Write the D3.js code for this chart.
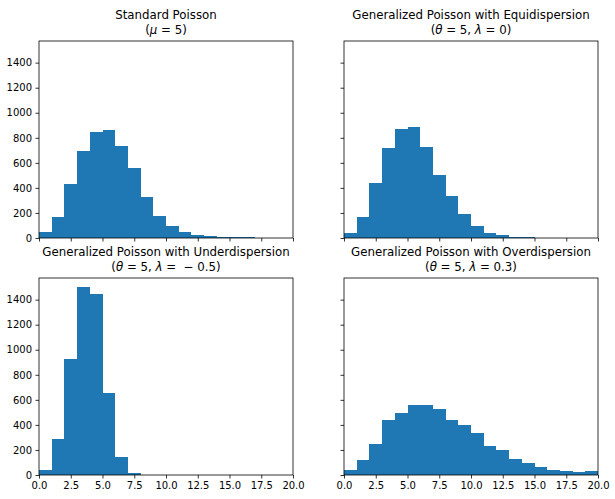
<!DOCTYPE html>
<html>
<head>
<meta charset="utf-8">
<script src="https://cdn.jsdelivr.net/npm/d3@7"></script>
<style>
  body { margin: 0; background: #fff; }
  text { font-family: "DejaVu Sans", sans-serif; fill: #000; }
</style>
</head>
<body>
<script>
// bin edges 0..20, width 1
var binStarts = d3.range(0, 20);

var standardCounts = [48, 168, 431, 695, 846, 862, 735, 559, 327, 176, 98, 48, 26, 16, 8, 8, 8, 0, 0, 0];
var equiCounts     = [40, 168, 439, 719, 870, 886, 727, 503, 335, 192, 98, 40, 24, 8, 8, 0, 0, 0, 0, 0];
var underCounts    = [40, 287, 926, 1498, 1445, 655, 144, 16, 0, 0, 0, 0, 0, 0, 0, 0, 0, 0, 0, 0];
var overCounts     = [40, 120, 248, 439, 495, 559, 559, 527, 439, 399, 335, 231, 200, 128, 96, 64, 40, 32, 24, 32];

var titles1 = ["Standard Poisson", "Generalized Poisson with Equidispersion",
               "Generalized Poisson with Underdispersion", "Generalized Poisson with Overdispersion"];
// second title line pieces: [text, italic?]
var titles2 = [
  [["(", 0], ["\u03bc", 1], [" = 5)", 0]],
  [["(", 0], ["\u03b8", 1], [" = 5, ", 0], ["\u03bb", 1], [" = 0)", 0]],
  [["(", 0], ["\u03b8", 1], [" = 5, ", 0], ["\u03bb", 1], [" =  \u2212 0.5)", 0]],
  [["(", 0], ["\u03b8", 1], [" = 5, ", 0], ["\u03bb", 1], [" = 0.3)", 0]]
];

var xTicks = [0, 2.5, 5, 7.5, 10, 12.5, 15, 17.5, 20];
var yTicks = [0, 200, 400, 600, 800, 1000, 1200, 1400];

var allCounts = [standardCounts, equiCounts, underCounts, overCounts];

var w = 615, h = 499;
var lefts = [39, 344], tops = [41, 278];
var pw = 254, ph = 197;

var svg = d3.select("body").append("svg")
    .attr("width", w)
    .attr("height", h);

var yMax = d3.max(allCounts, function(c) { return d3.max(c); }) * 1.05;

allCounts.forEach(function(counts, i) {
    var col = i % 2, row = Math.floor(i / 2);
    var g = svg.append("g")
        .attr("transform", "translate(" + lefts[col] + "," + tops[row] + ")");

    var x = d3.scaleLinear().domain([0, 20]).range([0, pw]);
    var y = d3.scaleLinear().domain([0, yMax]).range([ph, 0]);

    g.selectAll("rect")
        .data(counts.filter(function(d) { return d > 0; }))
        .enter().append("rect")
        .attr("x", function(d, k) { return Math.round(x(binStarts[k])); })
        .attr("width", function(d, k) { return Math.round(x(binStarts[k] + 1)) - Math.round(x(binStarts[k])); })
        .attr("y", function(d) { return Math.round(y(d)); })
        .attr("height", function(d) { return ph - Math.round(y(d)); })
        .attr("fill", "#1f77b4")
        .attr("shape-rendering", "crispEdges");

    var xAxis = d3.axisBottom(x).tickValues(xTicks).tickSize(3.5).tickPadding(3.5)
        .tickFormat(row == 1 ? d3.format(".1f") : "");
    var yAxis = d3.axisLeft(y).tickValues(yTicks).tickSize(3.5).tickPadding(3.5)
        .tickFormat(col == 0 ? d3.format("d") : "");

    var gx = g.append("g").attr("transform", "translate(0," + ph + ")").call(xAxis);
    var gy = g.append("g").call(yAxis);
    [gx, gy].forEach(function(a) {
        a.select(".domain").remove();
        a.selectAll("line").attr("stroke", "#000").attr("stroke-width", 0.8);
        a.selectAll("text").attr("font-family", "DejaVu Sans").attr("font-size", 10).attr("fill", "#000");
    });

    g.append("rect")
        .attr("width", pw).attr("height", ph)
        .attr("fill", "none").attr("stroke", "#000").attr("stroke-width", 0.8);

    g.append("text")
        .attr("x", pw / 2).attr("y", -22.5)
        .attr("text-anchor", "middle")
        .attr("font-size", 11.8)
        .text(titles1[i]);

    var t2 = g.append("text")
        .attr("x", pw / 2).attr("y", -6.7)
        .attr("text-anchor", "middle")
        .attr("font-size", 11.8);
    titles2[i].forEach(function(p) {
        t2.append("tspan")
            .attr("font-style", p[1] ? "italic" : "normal")
            .attr("xml:space", "preserve")
            .text(p[0]);
    });
});
</script>
</body>
</html>
